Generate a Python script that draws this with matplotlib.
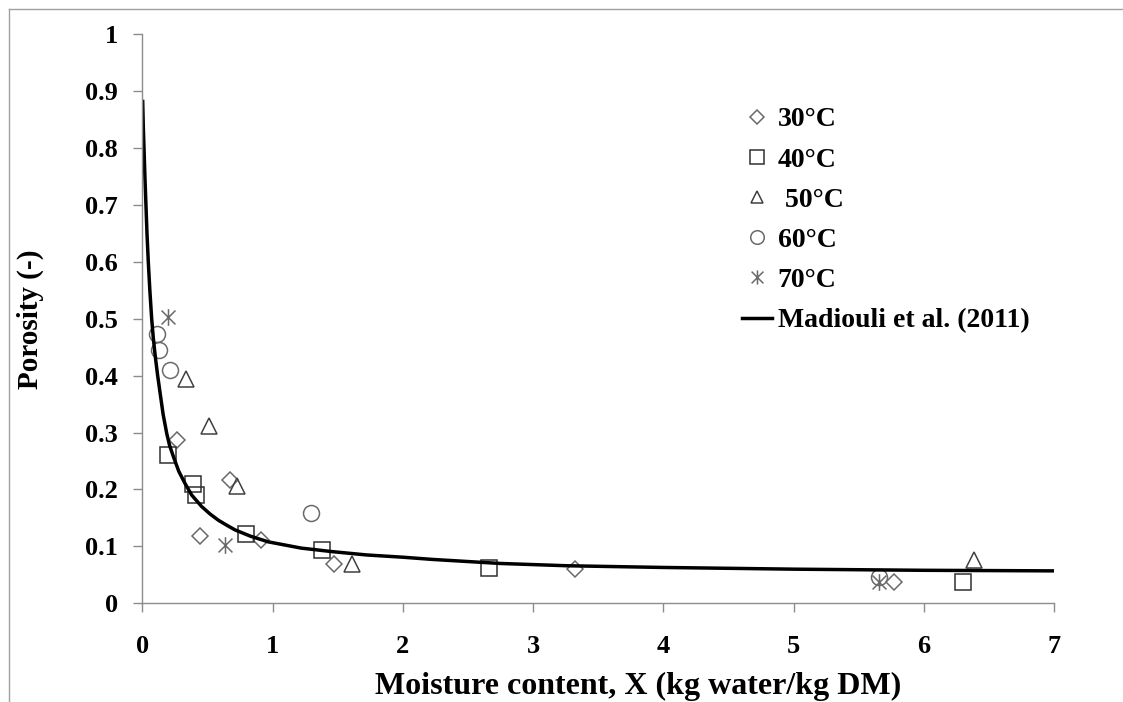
import matplotlib
matplotlib.use("Agg")
import matplotlib.pyplot as plt
from matplotlib.path import Path
from matplotlib.lines import Line2D

# --- dados ---
x_30 = [0.27, 0.44, 0.675, 0.91, 1.47, 3.32, 5.77]
y_30 = [0.287, 0.118, 0.217, 0.112, 0.069, 0.060, 0.037]

x_40 = [0.20, 0.386, 0.414, 0.80, 1.38, 2.66, 6.30]
y_40 = [0.261, 0.210, 0.190, 0.121, 0.093, 0.062, 0.038]

x_50 = [0.335, 0.514, 0.727, 1.61, 6.385]
y_50 = [0.395, 0.312, 0.206, 0.069, 0.076]

x_60 = [0.11, 0.125, 0.215, 1.297, 5.66]
y_60 = [0.474, 0.445, 0.410, 0.159, 0.046]

x_70 = [0.20, 0.637, 5.66]
y_70 = [0.503, 0.102, 0.038]

# curva do modelo (pontos lidos ao longo da linha)
x_mod = [0.003, 0.008, 0.013, 0.02, 0.028, 0.036, 0.046, 0.058, 0.072, 0.085,
         0.10, 0.118, 0.137, 0.16, 0.188, 0.21, 0.24, 0.28, 0.327, 0.38,
         0.456, 0.52, 0.584, 0.65, 0.712, 0.83, 0.967, 1.22, 1.45, 1.72,
         2.0, 2.235, 2.75, 3.26, 4.0, 5.0, 6.0, 7.0]
y_mod = [0.882, 0.835, 0.80, 0.75, 0.70, 0.65, 0.60, 0.55, 0.50, 0.465,
         0.433, 0.40, 0.369, 0.332, 0.298, 0.277, 0.257, 0.232, 0.211, 0.190,
         0.170, 0.157, 0.146, 0.137, 0.129, 0.118, 0.108, 0.097, 0.091, 0.085,
         0.081, 0.077, 0.070, 0.066, 0.063, 0.060, 0.058, 0.057]

rotulos = ["30°C", "40°C", " 50°C", "60°C", "70°C", "Madiouli et al. (2011)"]

plt.rcParams["font.family"] = ["Liberation Serif", "DejaVu Serif"]
plt.rcParams["font.weight"] = "bold"

W, H = 1123, 702
fig = plt.figure(figsize=(W / 100, H / 100), dpi=100)
ax = fig.add_axes([142.3 / W, 1 - 603.3 / H, (1054 - 142.3) / W, (603.3 - 34.3) / H])

# marcador estrela estilo Excel (X + barra vertical)
estrela = Path(
    [(-0.5, -0.5), (0.5, 0.5), (-0.5, 0.5), (0.5, -0.5), (0, -0.6), (0, 0.6)],
    [Path.MOVETO, Path.LINETO, Path.MOVETO, Path.LINETO, Path.MOVETO, Path.LINETO],
)

cinza = "#6a6a6a"
ax.plot(x_30, y_30, ls="none", marker="D", ms=7.8, mfc="none", mec=cinza, mew=1.1, label=rotulos[0])
ax.plot(x_40, y_40, ls="none", marker="s", ms=11.5, mfc="none", mec="#303030", mew=1.1, label=rotulos[1])
ax.plot(x_50, y_50, ls="none", marker="^", ms=11, mfc="none", mec="#404040", mew=1.1, label=rotulos[2])
ax.plot(x_60, y_60, ls="none", marker="o", ms=11.5, mfc="none", mec=cinza, mew=1.1, label=rotulos[3])
ax.plot(x_70, y_70, ls="none", marker=estrela, ms=12, mfc="none", mec=cinza, mew=1.1, label=rotulos[4])
ax.plot(x_mod, y_mod, color="black", lw=2.5, label=rotulos[5])

ax.set_xlim(0, 7)
ax.set_ylim(0, 1)
ax.set_xticks(range(0, 8))
ax.set_yticks([i / 10 for i in range(11)])
ax.set_yticklabels(["0", "0.1", "0.2", "0.3", "0.4", "0.5", "0.6", "0.7", "0.8", "0.9", "1"])

for lado in ["top", "right"]:
    ax.spines[lado].set_visible(False)
for lado in ["left", "bottom"]:
    ax.spines[lado].set_color("#8c8c8c")
    ax.spines[lado].set_linewidth(1.0)

ax.tick_params(axis="y", direction="out", length=6.5, width=1, color="#8c8c8c",
               labelsize=19, pad=11)
ax.tick_params(axis="x", direction="out", length=6.5, width=1, color="#8c8c8c",
               labelsize=19, pad=16)
for t in ax.get_xticklabels() + ax.get_yticklabels():
    t.set_fontweight("bold")

ax.set_xlabel("Moisture content, X (kg water/kg DM)", fontsize=23, fontweight="bold")
ax.xaxis.set_label_coords(0.544, -0.12)
ax.set_ylabel("Porosity (-)", fontsize=21, fontweight="bold")
ax.yaxis.set_label_coords(-0.108, 0.5)

leg = ax.legend(loc="upper left", bbox_to_anchor=(742 / W, 1 - 107 / H),
                bbox_transform=fig.transFigure, frameon=False, fontsize=20,
                handlelength=1.08, handletextpad=0.2, labelspacing=0.53,
                borderpad=0, borderaxespad=0, markerscale=0.85)
for t in leg.get_texts():
    t.set_fontweight("bold")

# moldura cinza da área do gráfico
fig.add_artist(Line2D([9.3 / W, 9.3 / W], [0, 1 - 9.3 / H], transform=fig.transFigure,
                      color="#a0a0a0", lw=1))
fig.add_artist(Line2D([9.3 / W, 1], [1 - 9.3 / H, 1 - 9.3 / H], transform=fig.transFigure,
                      color="#a0a0a0", lw=1))

fig.savefig("out.png", dpi=100)
